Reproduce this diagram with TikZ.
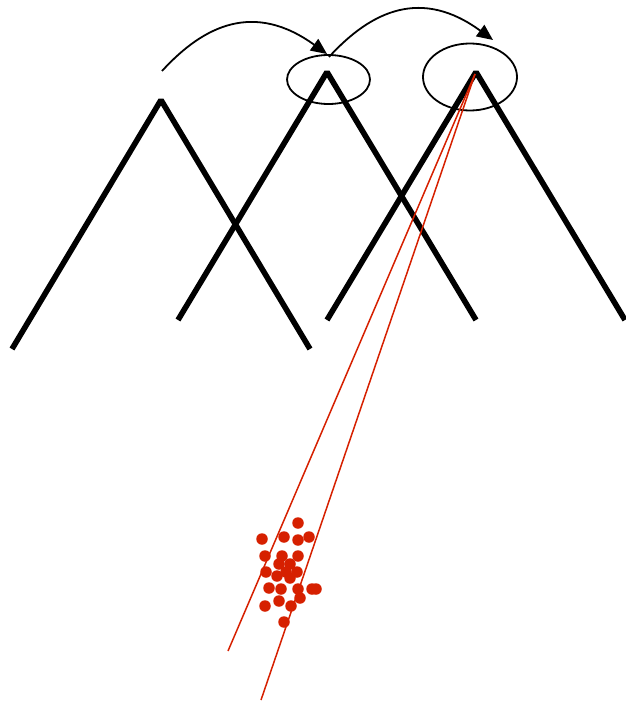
\documentclass[tikz,border=0pt]{standalone}
\usetikzlibrary{shapes.geometric,arrows.meta}
\definecolor{dotred}{RGB}{214,32,0}
\begin{document}
\begin{tikzpicture}[x=1pt,y=-1pt,
  peak/.style={line width=5.6pt,line join=bevel},
  ring/.style={draw,ellipse,line width=1.8pt,inner sep=0pt},
  hop/.style={line width=1.8pt,-{Triangle[length=16pt,width=14pt]}},
  ray/.style={draw=dotred,line width=1.5pt},
  pt/.style={circle,fill=dotred,inner sep=0pt,minimum size=11.5pt}]
\useasboundingbox (0,0) rectangle (625,701);
% peaks
\coordinate (a1) at (161,100);
\coordinate (a2) at (327,72);
\coordinate (a3) at (476,72);
\draw[peak] (12,349) -- (a1) -- (310,349);
\draw[peak] (178,320) -- (a2) -- (476,320);
\draw[peak] (327,320) -- (a3) -- (625,320);
% ellipses
\node[ring,minimum width=83pt,minimum height=49pt] (e1) at (328.5,79.5) {};
\node[ring,minimum width=94pt,minimum height=67pt] (e2) at (470,77) {};
% arrows
\coordinate (s1) at (162,71);
\coordinate (t1) at (327,54);
\coordinate (s2) at (329,57);
\coordinate (t2) at (493,40);
\draw[hop] (s1) .. controls (205,24) and (255,2) .. (t1);
\draw[hop] (s2) .. controls (372,10) and (422,-12) .. (t2);
% red rays
\coordinate (r0) at (475,74);
\coordinate (r1) at (228,651);
\coordinate (r2) at (261,700);
\draw[ray] (r0) -- (r1);
\draw[ray] (r0) -- (r2);
% dots
\foreach \p [count=\i] in {(298,523),(262,539),(284,537),(298,540),(309,537),
  (265,556),(282,556),(298,556),(279,564),(290,564),(266,572),(277,576),
  (286,572),(297,572),(290,578),(269,588),(281,589),(298,589),(312,589),
  (316,589),(300,598),(279,601),(265,606),(291,606),(284,622)}
  \node[pt] (d\i) at \p {};
\end{tikzpicture}
\end{document}
